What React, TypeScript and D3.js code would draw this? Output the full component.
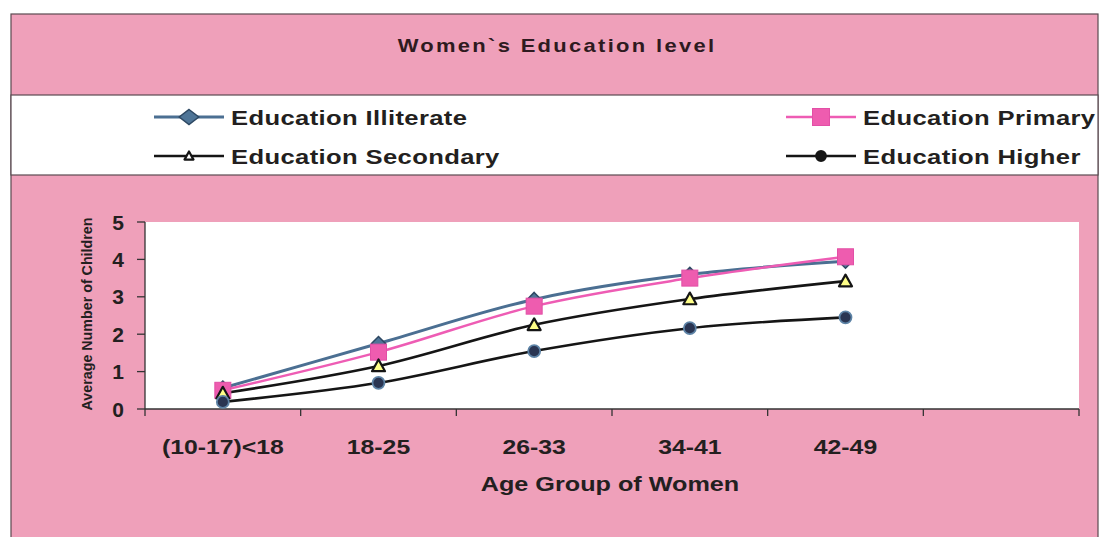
import React from "react";
import * as d3 from "d3";

const categories = ["(10-17)<18", "18-25", "26-33", "34-41", "42-49", ""];
const illiterate = [0.56, 1.75, 2.93, 3.6, 3.95];
const primary = [0.5, 1.52, 2.75, 3.5, 4.07];
const secondary = [0.42, 1.15, 2.25, 2.94, 3.42];
const higher = [0.19, 0.7, 1.55, 2.16, 2.45];
const yTicks = [0, 1, 2, 3, 4, 5];
const seriesNames = ["Education Illiterate", "Education Primary", "Education Secondary", "Education Higher"];
const titleText = "Women`s Education level";
const xTitle = "Age Group of Women";
const yTitle = "Average Number of Children";

const W = 1100, H = 537;
const PINK = "#efa0ba";
const SX = 1.22;
const FONT = "'Liberation Sans', Arial, Helvetica, sans-serif";

type Marker = "diamond" | "square" | "triangle" | "circle";
const styles: { color: string; width: number; marker: Marker; fill: string; stroke: string }[] = [
  { color: "#4b6f92", width: 3, marker: "diamond", fill: "#4f7597", stroke: "#2d4863" },
  { color: "#ee5cb4", width: 2.5, marker: "square", fill: "#ee5caf", stroke: "#e24fa6" },
  { color: "#151515", width: 2.6, marker: "triangle", fill: "#ffff88", stroke: "#151515" },
  { color: "#151515", width: 2.6, marker: "circle", fill: "#2a3552", stroke: "#5d83a6" },
];

function MarkerShape({ type, x, y, s, fill, stroke, wide = 1 }: { type: Marker; x: number; y: number; s: number; fill: string; stroke: string; wide?: number }) {
  if (type === "diamond") {
    const h = s / 2;
    const w = h * wide;
    return <path d={`M${x},${y - h}L${x + w},${y}L${x},${y + h}L${x - w},${y}Z`} fill={fill} stroke={stroke} strokeWidth={1.5} />;
  }
  if (type === "square") {
    return <rect x={x - s / 2} y={y - s / 2} width={s} height={s} fill={fill} stroke={stroke} strokeWidth={1} />;
  }
  if (type === "triangle") {
    const h = s / 2;
    return <path d={`M${x},${y - h}L${x + h},${y + h * 0.8}L${x - h},${y + h * 0.8}Z`} fill={fill} stroke={stroke} strokeWidth={2.2} strokeLinejoin="round" />;
  }
  return <circle cx={x} cy={y} r={s / 2} fill={fill} stroke={stroke} strokeWidth={1.8} />;
}

function SText({ x, y, size, children, anchor = "start", spacing = 0, fill = "#231f20", sx = SX }: any) {
  return (
    <text
      transform={`translate(${x},${y}) scale(${sx},1)`}
      fontFamily={FONT}
      fontWeight="bold"
      fontSize={size}
      textAnchor={anchor}
      letterSpacing={spacing}
      fill={fill}
    >
      {children}
    </text>
  );
}

export default function App() {
  const plot = { left: 145, right: 1079, top: 222, bottom: 409 };
  const x = d3.scaleBand<string>().domain(categories).range([plot.left, plot.right]).padding(0);
  const y = d3.scaleLinear().domain([0, 5]).range([plot.bottom, plot.top]);
  const cx = (i: number) => (x(categories[i]) as number) + x.bandwidth() / 2;
  const line = d3
    .line<number>()
    .x((_, i) => cx(i))
    .y((d) => y(d))
    .curve(d3.curveCatmullRom.alpha(0.5));
  const data = [illiterate, primary, secondary, higher];
  const markerSize = [14, 16, 13, 12];
  const boundaries = [...categories.map((c) => x(c) as number), plot.right];

  const legendItems = [
    { i: 0, lx: 154, ty: 125, ly: 117 },
    { i: 1, lx: 786, ty: 125, ly: 117 },
    { i: 2, lx: 154, ty: 164, ly: 156 },
    { i: 3, lx: 786, ty: 164, ly: 156 },
  ];
  const legendMarkerSize = [15, 17, 9, 10];

  return (
    <svg width={W} height={H} style={{ position: "absolute", left: 0, top: 0, display: "block" }}>
      <rect x={0} y={0} width={W} height={H} fill="#ffffff" />
      <rect x={11} y={14} width={1087} height={H} fill={PINK} stroke="#5a4a50" strokeWidth={1.2} />
      <rect x={11} y={95} width={1087} height={80} fill="#ffffff" stroke="#5a4a50" strokeWidth={1.2} />

      <SText x={557} y={52} size={18} anchor="middle" spacing={1.9} fill="#2e1a20">
        {titleText}
      </SText>

      {legendItems.map(({ i, lx, ty, ly }) => {
        const st = styles[i];
        return (
          <g key={i}>
            <line x1={lx} x2={lx + 70} y1={ly} y2={ly} stroke={st.color} strokeWidth={st.width} />
            <MarkerShape
              type={st.marker}
              x={lx + 35}
              y={ly}
              s={legendMarkerSize[i]}
              wide={1.3}
              fill={st.marker === "triangle" ? "#ffffff" : st.marker === "circle" ? "#151515" : st.fill}
              stroke={st.marker === "circle" ? "#151515" : st.stroke}
            />
            <SText x={lx + 77} y={ty} size={21} spacing={0.3}>
              {seriesNames[i]}
            </SText>
          </g>
        );
      })}

      <rect x={plot.left} y={plot.top} width={plot.right - plot.left} height={plot.bottom - plot.top} fill="#ffffff" />

      {/* y axis */}
      <line x1={plot.left} x2={plot.left} y1={plot.top} y2={plot.bottom} stroke="#333" strokeWidth={1.3} />
      {yTicks.map((t) => (
        <g key={t}>
          <line x1={plot.left - 8} x2={plot.left} y1={y(t)} y2={y(t)} stroke="#333" strokeWidth={1.3} />
          <SText x={124} y={y(t) + 7.5} size={21} anchor="end" sx={1}>
            {t}
          </SText>
        </g>
      ))}
      <text
        transform={`translate(92,314) rotate(-90) scale(1.02,1)`}
        fontFamily={FONT}
        fontWeight="bold"
        fontSize={14}
        textAnchor="middle"
        fill="#231f20"
      >
        {yTitle}
      </text>

      {/* x axis */}
      <line x1={plot.left} x2={plot.right} y1={plot.bottom} y2={plot.bottom} stroke="#333" strokeWidth={1.3} />
      {boundaries.map((b, i) => (
        <line key={i} x1={b} x2={b} y1={plot.bottom} y2={plot.bottom + 7} stroke="#333" strokeWidth={1.3} />
      ))}
      {categories.map((c, i) =>
        c ? (
          <SText key={c} x={cx(i)} y={454} size={21} anchor="middle" sx={1.18}>
            {c}
          </SText>
        ) : null
      )}
      <SText x={610} y={491} size={21} anchor="middle" sx={1.2}>
        {xTitle}
      </SText>

      {/* series */}
      {data.map((vals, si) => (
        <path key={si} d={line(vals) as string} fill="none" stroke={styles[si].color} strokeWidth={styles[si].width} />
      ))}
      {data.map((vals, si) =>
        vals.map((v, i) => (
          <MarkerShape key={`${si}-${i}`} type={styles[si].marker} x={cx(i)} y={y(v)} s={markerSize[si]} fill={styles[si].fill} stroke={styles[si].stroke} />
        ))
      )}
    </svg>
  );
}
